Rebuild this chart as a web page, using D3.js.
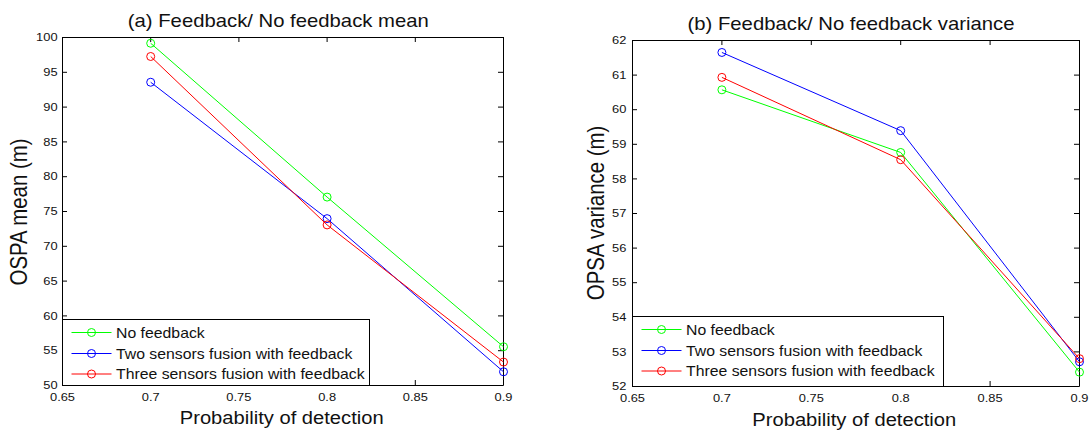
<!DOCTYPE html>
<html>
<head>
<meta charset="utf-8">
<script src="https://cdn.jsdelivr.net/npm/d3@7"></script>
<style>
  html, body { margin: 0; padding: 0; background: #fff; }
  svg { display: block; }
  text { font-family: "Liberation Sans", Arial, Helvetica, sans-serif; fill: #111; }
</style>
</head>
<body>
<svg id="chart" width="1089" height="435"></svg>
<script>
// ---------------- data ----------------
const xValues = [0.7, 0.8, 0.9];
const seriesNames = ["No feedback", "Two sensors fusion with feedback", "Three sensors fusion with feedback"];
const seriesColors = ["#00ff00", "#0000ff", "#ff0000"];

const meanNoFeedback    = [99.1, 77.0, 55.5];
const meanTwoSensors    = [93.5, 73.9, 51.9];
const meanThreeSensors  = [97.2, 73.0, 53.3];

const varNoFeedback     = [60.56, 58.75, 52.40];
const varTwoSensors     = [61.64, 59.38, 52.70];
const varThreeSensors   = [60.92, 58.54, 52.79];

const xTickValues = [0.65, 0.7, 0.75, 0.8, 0.85, 0.9];
const xTickLabels = ["0.65", "0.7", "0.75", "0.8", "0.85", "0.9"];
const meanTickValues = [50, 55, 60, 65, 70, 75, 80, 85, 90, 95, 100];
const meanTickLabels = ["50", "55", "60", "65", "70", "75", "80", "85", "90", "95", "100"];
const varTickValues = [52, 53, 54, 55, 56, 57, 58, 59, 60, 61, 62];
const varTickLabels = ["52", "53", "54", "55", "56", "57", "58", "59", "60", "61", "62"];

const titles = ["(a) Feedback/ No feedback mean", "(b) Feedback/ No feedback variance"];
const yLabels = ["OSPA mean (m)", "OPSA variance (m)"];
const xLabel = "Probability of detection";

// ---------------- layout ----------------
const SX = 1.14; // horizontal text stretch seen in the reference
const panels = [
  {
    left: 62, right: 503, top: 37, bottom: 385,
    yDomain: [50, 100], yTicks: meanTickValues, yTickLabels: meanTickLabels,
    series: [meanNoFeedback, meanTwoSensors, meanThreeSensors],
    title: titles[0], titleX: 278.3, titleY: 26.5,
    yLabel: yLabels[0], yLabelX: 19, yLabelY: 212,
    xLabelX: 281.7, xLabelY: 424,
    yPad: 3.9,
    legend: { x: 62.5, y: 319.5, w: 307, h: 66 }
  },
  {
    left: 632, right: 1079, top: 40, bottom: 386,
    yDomain: [52, 62], yTicks: varTickValues, yTickLabels: varTickLabels,
    series: [varNoFeedback, varTwoSensors, varThreeSensors],
    title: titles[1], titleX: 851, titleY: 30,
    yLabel: yLabels[1], yLabelX: 596, yLabelY: 213,
    xLabelX: 854.3, xLabelY: 426,
    yPad: 4.9,
    legend: { x: 632.5, y: 316.5, w: 311, h: 70 }
  }
];

const svg = d3.select("#chart");

function stretchedText(g, x, y, str, size, sx, anchor, rot) {
  const t = g.append("g")
    .attr("transform", `translate(${x},${y}) scale(${sx},1)` + (rot ? ` rotate(${rot})` : ""))
    .append("text")
    .attr("text-anchor", anchor || "middle")
    .attr("font-size", size)
    .text(str);
  return t;
}

panels.forEach(p => {
  const g = svg.append("g");
  const x = d3.scaleLinear().domain([0.65, 0.9]).range([p.left, p.right]);
  const y = d3.scaleLinear().domain(p.yDomain).range([p.bottom, p.top]);

  const tickFont = 11.3;

  // white plot area
  g.append("rect")
    .attr("x", p.left).attr("y", p.top)
    .attr("width", p.right - p.left).attr("height", p.bottom - p.top)
    .attr("fill", "#fff");

  // axes
  const xb = g.append("g").attr("transform", `translate(0,${p.bottom})`)
    .call(d3.axisBottom(x).tickValues(xTickValues)
      .tickFormat((d, i) => xTickLabels[i])
      .tickSizeInner(-5).tickSizeOuter(0).tickPadding(7.7));
  const xt = g.append("g").attr("transform", `translate(0,${p.top})`)
    .call(d3.axisTop(x).tickValues(xTickValues).tickFormat("")
      .tickSizeInner(-5).tickSizeOuter(0));
  const yl = g.append("g").attr("transform", `translate(${p.left},0)`)
    .call(d3.axisLeft(y).tickValues(p.yTicks)
      .tickFormat((d, i) => p.yTickLabels[i])
      .tickSizeInner(-5).tickSizeOuter(0).tickPadding(p.yPad));
  const yr = g.append("g").attr("transform", `translate(${p.right},0)`)
    .call(d3.axisRight(y).tickValues(p.yTicks).tickFormat("")
      .tickSizeInner(-5).tickSizeOuter(0));

  [xb, xt, yl, yr].forEach(a => {
    a.select(".domain").attr("stroke", "#000").attr("stroke-width", 1);
    a.selectAll(".tick line").attr("stroke", "#000").attr("stroke-width", 1);
    a.selectAll(".tick text")
      .attr("font-size", tickFont)
      .attr("font-family", '"Liberation Sans", Arial, sans-serif')
      .attr("fill", "#111");
  });
  xb.selectAll(".tick text").attr("transform", `scale(${SX},1)`);
  yl.selectAll(".tick text").attr("transform", `scale(${SX},1)`);

  // series lines + markers
  p.series.forEach((vals, si) => {
    const pts = xValues.map((xv, i) => [x(xv) + 0.5, y(vals[i])]);
    g.append("path")
      .attr("d", d3.line()(pts))
      .attr("fill", "none")
      .attr("stroke", seriesColors[si])
      .attr("stroke-width", 1);
    g.selectAll(null).data(pts).enter().append("circle")
      .attr("cx", d => d[0]).attr("cy", d => d[1]).attr("r", 4)
      .attr("fill", "none").attr("stroke", seriesColors[si]).attr("stroke-width", 1);
  });

  // legend
  const L = p.legend;
  const lg = g.append("g").attr("transform", `translate(${L.x},${L.y})`);
  lg.append("rect").attr("x", 0).attr("y", 0).attr("width", L.w).attr("height", L.h)
    .attr("fill", "#fff").attr("stroke", "#000").attr("stroke-width", 1);
  const rowY = [13, 34, 54.5];
  seriesNames.forEach((name, si) => {
    const ry = rowY[si];
    lg.append("line").attr("x1", 9).attr("x2", 49).attr("y1", ry).attr("y2", ry)
      .attr("stroke", seriesColors[si]).attr("stroke-width", 1);
    lg.append("circle").attr("cx", 29).attr("cy", ry).attr("r", 4)
      .attr("fill", "none").attr("stroke", seriesColors[si]).attr("stroke-width", 1);
    stretchedText(lg, 53.5, ry + 5, name, 14, 1.13, "start");
  });

  // title and axis labels
  stretchedText(g, p.titleX, p.titleY, p.title, 17.8, SX, "middle");
  stretchedText(g, p.xLabelX, p.xLabelY, xLabel, 18.5, 1.09, "middle");
  stretchedText(g, p.yLabelX, p.yLabelY, p.yLabel, 20.4, SX, "middle", -90)
    .attr("dy", "0.35em");
});
</script>
</body>
</html>
